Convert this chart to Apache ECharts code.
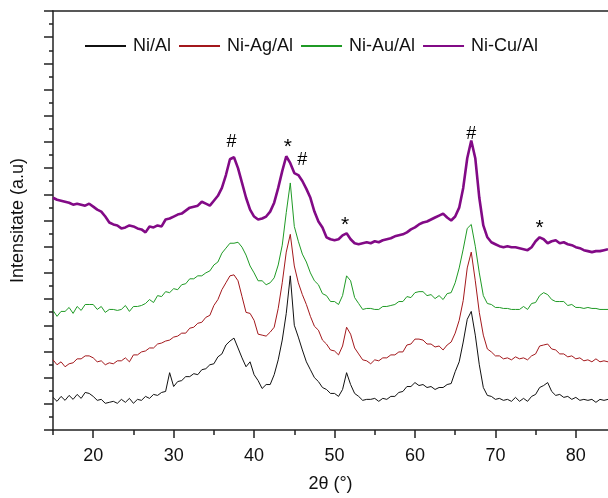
<!DOCTYPE html>
<html>
<head>
<meta charset="utf-8">
<script src="https://cdn.jsdelivr.net/npm/echarts@6/dist/echarts.min.js"></script>
<style>
  html, body { margin: 0; padding: 0; background: #fff; }
  #chart { width: 608px; height: 498px; }
</style>
</head>
<body>
<div id="chart"></div>
<script>
// XRD patterns, 2theta scan 15..84 deg, step 0.5
const twoTheta = Array.from({ length: 139 }, (_, i) => 15 + i * 0.5);

const seriesNames = ['Ni/Al', 'Ni-Ag/Al', 'Ni-Au/Al', 'Ni-Cu/Al'];
const seriesColors = ['#111111', '#a3181c', '#1f9a25', '#820a86'];

// intensities (a.u., curves already stacked with offsets)
const niAl = [
  33,29,34,30,35,31,36,32,38,37,
  34,30,31,27,28,29,27,31,28,32,
  27,31,30,34,32,36,35,38,39,58,
  44,49,50,54,54,57,56,61,62,66,
  67,74,77,86,90,93,83,73,64,69,
  56,50,42,46,46,56,71,91,118,156,
  106,94,81,69,61,53,49,43,41,37,
  37,34,41,58,46,37,34,30,31,31,
  32,29,32,31,34,34,38,39,44,44,
  48,45,46,43,44,41,43,43,46,47,
  59,69,89,112,120,96,66,43,35,34,
  31,32,30,31,29,33,29,32,29,34,
  36,43,45,48,39,35,36,33,34,31,
  33,30,31,30,31,28,31,30,31
];
const niAgAl = [
  71,66,69,64,67,68,72,72,75,75,
  73,69,70,66,68,67,70,70,73,69,
  76,76,79,80,83,83,87,88,90,91,
  94,95,98,98,103,104,108,109,114,116,
  126,132,142,149,156,157,151,135,119,118,
  111,97,96,95,99,104,123,149,180,198,
  166,149,137,127,115,105,101,91,87,81,
  80,76,85,104,97,83,77,71,70,67,
  71,70,73,73,76,76,79,79,86,87,
  92,92,91,87,87,84,85,81,86,89,
  98,111,131,164,180,151,119,96,82,79,
  75,75,72,73,71,74,72,73,71,75,
  77,85,86,87,82,81,77,77,74,75,
  72,73,70,71,69,72,69,70,69
];
const niAuAl = [
  121,115,120,120,124,118,125,121,127,127,
  127,122,125,119,122,122,121,122,126,120,
  125,125,126,128,132,129,136,135,140,139,
  143,142,147,148,153,153,156,156,159,161,
  167,170,179,184,189,189,190,185,177,166,
  159,151,151,147,149,154,167,187,220,250,
  206,191,178,170,159,151,147,138,136,130,
  130,127,136,156,151,134,128,122,123,123,
  122,122,125,125,126,127,130,130,135,134,
  139,140,140,136,137,133,136,132,138,139,
  149,164,183,204,208,186,159,136,128,127,
  124,124,123,123,122,122,122,125,122,128,
  129,136,139,137,132,130,130,130,126,127,
  124,124,123,124,123,123,122,122,122
];
const niCuAl = [
  235,233,232,231,230,228,229,228,227,229,
  226,223,221,216,210,208,207,204,205,207,
  206,204,203,200,206,205,207,206,213,214,
  216,218,219,222,225,226,227,231,229,227,
  232,237,245,258,274,276,265,250,235,223,
  216,213,214,216,221,230,245,262,277,270,
  260,258,252,244,235,221,211,205,195,193,
  192,193,197,199,193,189,188,189,190,189,
  191,190,192,193,194,196,197,198,200,203,
  205,208,210,211,213,215,217,219,215,212,
  216,225,245,275,293,275,235,207,195,190,
  188,186,185,186,185,185,184,183,182,185,
  191,195,193,189,191,192,189,190,188,187,
  185,184,182,181,180,181,181,182,183
];

// peak markers: symbol, 2theta, height
const markSymbols = ['#', '*', '#', '*', '#', '*'];
const markTheta = [37.2, 44.2, 46.0, 51.3, 67.0, 75.5];
const markHeight = [291, 291, 273, 212, 300, 209];

const xLabelTicks = [20, 30, 40, 50, 60, 70, 80];
const xMinorTicks = [15, 25, 35, 45, 55, 65, 75];

const allSeries = [niAl, niAgAl, niAuAl, niCuAl];
const lineWidths = [1, 1, 1, 2.6];

const axisColor = '#222';
const textColor = '#111';
const font = 'Liberation Sans, Arial, sans-serif';

const chart = echarts.init(document.getElementById('chart'), null, { renderer: 'canvas' });

const series = allSeries.map((vals, i) => ({
  name: seriesNames[i],
  type: 'line',
  data: vals.map((v, k) => [twoTheta[k], v]),
  symbol: 'none',
  lineStyle: { color: seriesColors[i], width: lineWidths[i] },
  itemStyle: { color: seriesColors[i] },
  z: 2 + i
}));

series.push({
  name: 'marks',
  type: 'scatter',
  symbolSize: 0,
  silent: true,
  itemStyle: { opacity: 1 },
  data: markSymbols.map((s, i) => ({
    value: [markTheta[i], markHeight[i]],
    label: {
      formatter: s,
      fontSize: s === '*' ? 21 : 18,
      offset: [0, s === '*' ? 5 : 0]
    }
  })),
  label: {
    show: true,
    position: 'inside',
    color: '#000',
    opacity: 1,
    fontFamily: font
  },
  z: 10
});

const option = {
  animation: false,
  backgroundColor: '#fff',
  grid: { left: 53, right: 0, top: 11, bottom: 63 },
  legend: {
    data: seriesNames,
    left: 84,
    top: 36,
    padding: 0,
    itemWidth: 41,
    itemHeight: 14,
    itemGap: 7,
    itemStyle: { opacity: 0 },
    textStyle: { fontSize: 18, color: textColor, fontFamily: font, padding: [0, 0, 0, 2], lineHeight: 20 }
  },
  xAxis: [{
    type: 'value',
    position: 'bottom',
    min: 15,
    max: 84,
    interval: 10,
    name: '2θ (°)',
    nameLocation: 'middle',
    nameGap: 45,
    nameTextStyle: { fontSize: 18, color: textColor, fontFamily: font },
    axisLine: { show: true, onZero: false, lineStyle: { color: axisColor, width: 1.5 } },
    axisTick: { show: true, length: 5, customValues: xMinorTicks, lineStyle: { color: axisColor, width: 1.5 } },
    minorTick: { show: true, splitNumber: 2, length: 8, lineStyle: { color: axisColor, width: 1.5 } },
    axisLabel: { customValues: xLabelTicks, fontSize: 18, color: textColor, fontFamily: font, margin: 17 },
    splitLine: { show: false }
  }, {
    type: 'value',
    position: 'top',
    min: 15,
    max: 84,
    axisLine: { show: true, onZero: false, lineStyle: { color: axisColor, width: 1.5 } },
    axisTick: { show: false },
    axisLabel: { show: false },
    splitLine: { show: false }
  }],
  yAxis: {
    type: 'value',
    min: 0,
    max: 424,
    interval: 26.5,
    name: 'Intensitate (a.u)',
    nameLocation: 'middle',
    nameGap: 26,
    nameTextStyle: { fontSize: 18, color: textColor, fontFamily: font },
    axisLine: { show: true, lineStyle: { color: axisColor, width: 1.5 } },
    axisTick: { show: true, length: 9, lineStyle: { color: axisColor, width: 1.5 } },
    minorTick: { show: true, splitNumber: 2, length: 4, lineStyle: { color: axisColor, width: 1.5 } },
    axisLabel: { show: false },
    splitLine: { show: false }
  },
  series: series
};

chart.setOption(option);
</script>
</body>
</html>
